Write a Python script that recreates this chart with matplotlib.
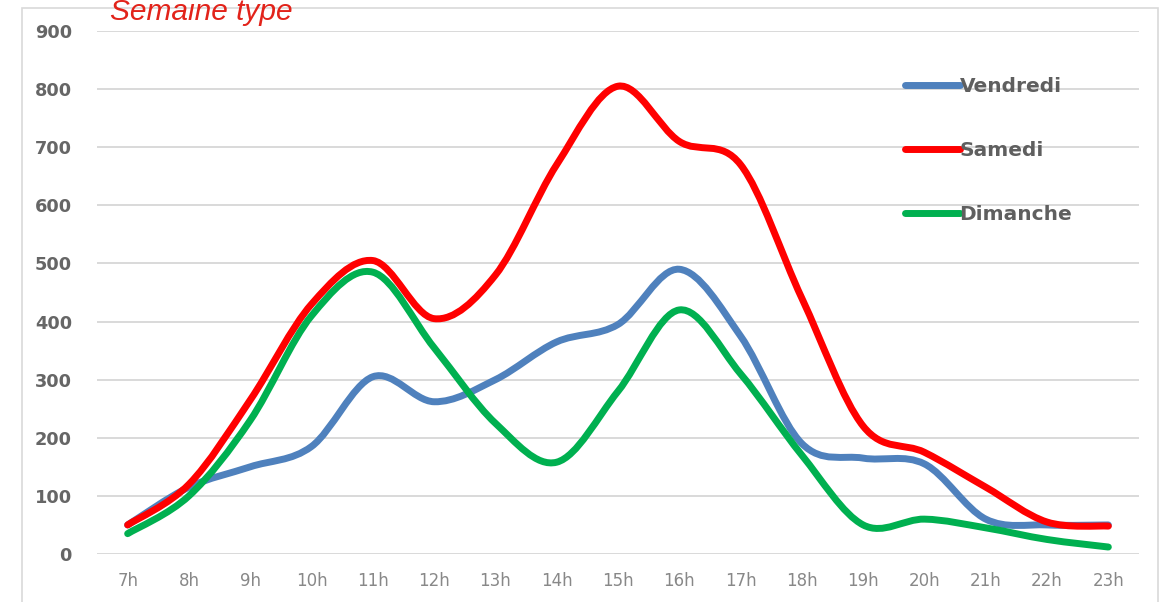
import numpy as np
import matplotlib
matplotlib.use("Agg")
import matplotlib.pyplot as plt
from matplotlib.path import Path
from matplotlib.patches import PathPatch, Rectangle
from matplotlib.lines import Line2D

hours = ["7h", "8h", "9h", "10h", "11h", "12h", "13h", "14h", "15h",
         "16h", "17h", "18h", "19h", "20h", "21h", "22h", "23h"]

vendredi = [50, 115, 150, 185, 305, 262, 300, 365, 395, 490, 375, 190, 165, 155, 60, 50, 50]
samedi = [50, 120, 265, 430, 505, 405, 480, 670, 805, 710, 670, 440, 220, 175, 115, 55, 48]
dimanche = [35, 100, 230, 410, 485, 355, 225, 158, 280, 420, 310, 170, 50, 60, 45, 25, 12]

series = [
    ("Vendredi", vendredi, "#4f81bd"),
    ("Samedi", samedi, "#ff0000"),
    ("Dimanche", dimanche, "#00b050"),
]


def smooth_path(x, y):
    # cubic bezier through the points, Excel-like smoothing
    pts = np.column_stack([x, y]).astype(float)
    n = len(pts)
    verts = [pts[0]]
    codes = [Path.MOVETO]
    for i in range(n - 1):
        p0 = pts[i - 1] if i > 0 else pts[i]
        p1 = pts[i]
        p2 = pts[i + 1]
        p3 = pts[i + 2] if i + 2 < n else pts[i + 1]
        c1 = p1 + (p2 - p0) / 6.0
        c2 = p2 - (p3 - p1) / 6.0
        verts += [c1, c2, p2]
        codes += [Path.CURVE4] * 3
    return Path(verts, codes)


W, H = 1163, 602
fig = plt.figure(figsize=(W / 100, H / 100), dpi=100)
ax = fig.add_axes([97 / W, (H - 554) / H, (1139 - 97) / W, 523 / H])

x = np.arange(len(hours))
for name, vals, color in series:
    patch = PathPatch(smooth_path(x, vals), facecolor="none", edgecolor=color,
                      lw=5, capstyle="round", joinstyle="round", zorder=3)
    ax.add_patch(patch)

ax.set_xlim(-0.5, len(hours) - 0.5)
ax.set_ylim(0, 900)
ax.set_yticks(np.arange(0, 901, 100))
ax.set_xticks(x)
ax.set_xticklabels(hours)
ax.grid(axis="y", color="#d9d9d9", lw=1.4, zorder=0)
ax.set_axisbelow(True)
for s in ax.spines.values():
    s.set_visible(False)
ax.tick_params(axis="both", length=0)
ax.tick_params(axis="y", pad=18, labelsize=12.8, labelcolor="#666666")
ax.tick_params(axis="x", pad=13, labelsize=12, labelcolor="#888888")
for lab in ax.get_yticklabels():
    lab.set_fontweight("bold")

handles = [Line2D([], [], color=c, lw=5, solid_capstyle="round") for _, _, c in series]
leg = ax.legend(handles, [s[0] for s in series], loc="upper left",
                bbox_to_anchor=(0.766, 0.931), frameon=False, borderpad=0,
                handlelength=2.7, handletextpad=0.0, labelspacing=2.22,
                prop={"size": 14.5, "weight": "bold"})
for t in leg.get_texts():
    t.set_color("#5f5f5f")

# chart frame
fig.patches.append(Rectangle((22 / W, -0.05), (1158 - 22) / W, 1.05 - 8 / H,
                             transform=fig.transFigure, fill=False,
                             edgecolor="#d9d9d9", lw=1.2))

fig.text(110 / W, 1 - 12 / H, "Semaine type", color="#e2231a", fontsize=21.5,
         style="italic", family="Liberation Sans", va="center", ha="left")

fig.savefig("out.png", dpi=100)
